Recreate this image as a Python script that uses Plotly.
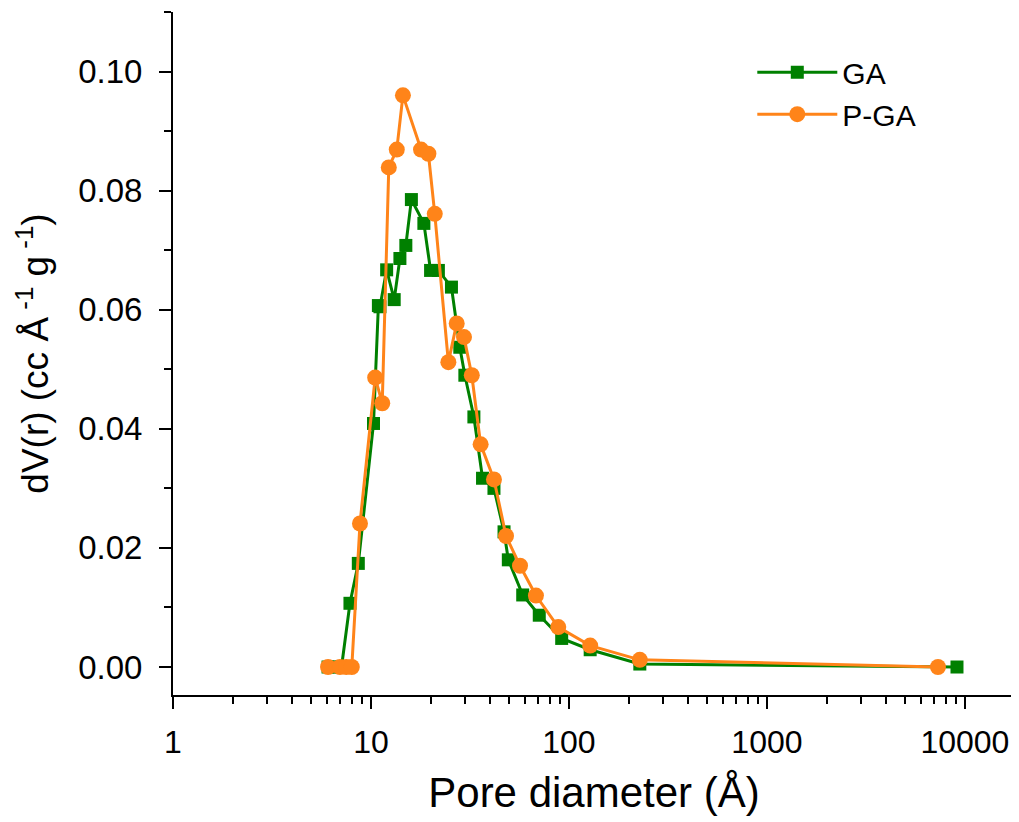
import plotly.graph_objects as go

# GA data (pore diameter in Å, dV(r))
ga_x = [6.07, 6.6, 7.1, 7.83, 8.63, 10.3, 10.9, 11.1, 12.0, 13.1, 14.0, 15.0, 16.0, 18.5,
        20.0, 21.9, 25.5, 28.1, 29.8, 33.1, 36.6, 41.8, 47.0, 49.4, 58.4, 70.8, 91.9,
        128, 228, 9120]
ga_y = [0.0, 0.0, 0.0, 0.0107, 0.0174, 0.0409, 0.0607, 0.0605, 0.0667, 0.0617, 0.0686, 0.0708,
        0.0785, 0.0745, 0.0666, 0.0666, 0.0638, 0.0537, 0.0490, 0.0420, 0.0317, 0.0300,
        0.0227, 0.0180, 0.0121, 0.0087, 0.0048, 0.0029, 0.0005, 0.0]

# P-GA data
pga_x = [6.07, 6.97, 7.5, 8.0, 8.8, 10.5, 11.4, 12.3, 13.5, 14.5, 17.9, 19.5, 21.0, 24.6,
         27.1, 29.5, 32.3, 35.8, 41.8, 48.1, 56.6, 68.1, 88.3, 128, 228, 7310]
pga_y = [0.0, 0.0, 0.0, 0.0, 0.0241, 0.0486, 0.0443, 0.0839, 0.0869, 0.0960, 0.0869, 0.0862,
         0.0761, 0.0512, 0.0577, 0.0554, 0.0490, 0.0374, 0.0315, 0.0220, 0.0170, 0.0120,
         0.0067, 0.0036, 0.0012, 0.0]

x_ticks = [1, 10, 100, 1000, 10000]
x_tick_labels = ["1", "10", "100", "1000", "10000"]
y_ticks = [0.00, 0.02, 0.04, 0.06, 0.08, 0.10]

GREEN = "#008000"
ORANGE = "#FF8419"
FONT = "Liberation Sans, Arial, sans-serif"

fig = go.Figure()
fig.add_trace(go.Scatter(
    x=ga_x, y=ga_y, name="GA", mode="lines+markers",
    line=dict(color=GREEN, width=3),
    marker=dict(symbol="square", size=13, color=GREEN),
))
fig.add_trace(go.Scatter(
    x=pga_x, y=pga_y, name="P-GA", mode="lines+markers",
    line=dict(color=ORANGE, width=3),
    marker=dict(symbol="circle", size=16, color=ORANGE),
))

# the page body has an 8px margin, so the figure is sized to fill the window
fig.update_layout(
    width=1011, height=814,
    margin=dict(l=165, r=4, t=4, b=127),
    paper_bgcolor="white", plot_bgcolor="white",
    font=dict(family=FONT, color="black", size=30),
    showlegend=True,
    legend=dict(
        x=0.688, y=0.95, xanchor="left", yanchor="top",
        bgcolor="rgba(0,0,0,0)", font=dict(size=30, family=FONT),
        itemwidth=80, tracegroupgap=0,
    ),
)
fig.update_xaxes(
    type="log", range=[0, 4.253], automargin=False,
    tickvals=x_ticks, ticktext=x_tick_labels,
    showgrid=False, zeroline=False,
    showline=True, linecolor="black", linewidth=2,
    ticks="outside", ticklen=12, tickwidth=2, tickcolor="black",
    ticklabelstandoff=6,
    minor=dict(ticks="outside", ticklen=7, tickwidth=2, tickcolor="black",
               dtick="D1", showgrid=False),
    tickfont=dict(size=32, family=FONT),
    title=dict(text="Pore diameter (Å)", font=dict(size=42, family=FONT), standoff=18),
)
fig.update_yaxes(
    range=[-0.0047, 0.11], automargin=False,
    tickvals=y_ticks, tickformat=".2f",
    showgrid=False, zeroline=False,
    showline=True, linecolor="black", linewidth=2,
    ticks="outside", ticklen=12, tickwidth=2, tickcolor="black",
    ticklabelstandoff=10,
    minor=dict(ticks="outside", ticklen=7, tickwidth=2, tickcolor="black",
               dtick=0.01, tick0=0, showgrid=False),
    tickfont=dict(size=33, family=FONT),
    title=dict(text="dV(r) (cc Å<sup> -1</sup> g<sup> -1</sup>)",
               font=dict(size=37, family=FONT), standoff=18),
)

fig.write_html("out.html")
